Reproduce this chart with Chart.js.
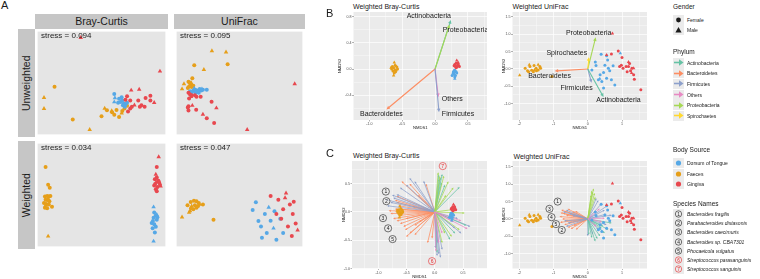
<!DOCTYPE html>
<html lang="en">
<head>
<meta charset="utf-8">
<title>NMDS oral / faecal microbiota</title>
<script src="https://cdn.jsdelivr.net/npm/chart.js@4.4.1/dist/chart.umd.min.js"></script>
<style>
  body { margin: 0; background: #fff; }
  #figura { position: relative; width: 760px; height: 279px; overflow: hidden;
            font-family: "Liberation Sans", Arial, sans-serif; color: #1a1a1a; }
  #figura canvas { position: absolute; }
  .letra { position: absolute; font-size: 11px; line-height: 1; }
  .tira { position: absolute; background: #C6C6C6; display: flex; align-items: center;
          justify-content: center; font-size: 10.5px; line-height: 1; }
  .tira.v span { transform: rotate(-90deg); white-space: nowrap; }
  .stress { position: absolute; font-size: 8px; line-height: 1; white-space: nowrap; color: #222; }
  .titulo { position: absolute; font-size: 7px; line-height: 1; white-space: nowrap; }
  .ley-titulo { position: absolute; font-size: 6.5px; line-height: 1; white-space: nowrap; }
  .ley-fila { position: absolute; display: flex; align-items: center; height: 10px;
              font-size: 5px; white-space: nowrap; }
  .ley-clave { width: 11px; height: 10px; background: #EBEBEB; margin-right: 3px;
               display: flex; align-items: center; justify-content: center; }
</style>
</head>
<body>
<div id="figura"></div>
<script>
// ---- Datos ----
// puntos: [NMDS1, NMDS2, sitio, genero]  sitio T=lengua F=heces G=encia, genero f/m
const sitios = ['T', 'F', 'G'];
const nombresSitio = ['Dorsum of Tongue', 'Faeces', 'Gingiva'];
const generos = ['Female', 'Male'];
const filos = ['A', 'B', 'F', 'O', 'P', 'S'];
const nombresFilo = ['Actinobacteria', 'Bacteroidetes', 'Firmicutes', 'Others', 'Proteobacteria', 'Spirochaetes'];
const especies = ['Bacteroides fragilis', 'Parabacteroides distasonis', 'Bacteroides caecimuris',
  'Bacteroides sp. CBA7301', 'Phocaeicola vulgatus', 'Streptococcus parasanguinis', 'Streptococcus sanguinis'];
const stressValores = ['0.094', '0.095', '0.034', '0.047'];

// Panel A (unidades de la faceta)
const uwBray = [
  [5.3,15.0,'F','f'],[2.0,11.6,'F','m'],[2.0,8.1,'F','m'],[11.0,4.7,'F','f'],[16.3,1.5,'F','m'],
  [21.0,8.2,'F','m'],[21.7,7.6,'F','f'],[20.0,5.7,'F','f'],[23.3,7.0,'F','f'],[24.0,6.2,'F','f'],
  [25.5,5.5,'F','f'],[26.5,7.4,'F','f'],[27.2,8.2,'F','f'],[23.2,7.4,'F','m'],[24.7,7.7,'F','f'],
  [28.0,9.0,'F','f'],[26.3,6.7,'F','m'],
  [24.0,12.7,'T','f'],[24.2,11.5,'T','m'],[25.5,11.2,'T','f'],[26.0,10.2,'T','f'],[26.5,10.7,'T','f'],
  [27.0,9.7,'T','f'],[27.5,9.4,'T','f'],[26.7,9.2,'T','f'],[28.0,10.0,'T','f'],[24.0,10.2,'T','m'],
  [26.3,11.7,'T','f'],[27.3,8.7,'T','f'],[25.2,10.0,'T','f'],
  [13.5,30.5,'G','m'],[38.3,19.9,'G','m'],[29.3,13.9,'G','m'],[31.8,14.2,'G','m'],[35.3,12.2,'G','f'],
  [33.8,11.5,'G','f'],[28.0,12.0,'G','f'],[29.0,10.7,'G','f'],[27.5,10.9,'G','f'],[31.5,10.7,'G','f'],
  [32.5,9.2,'G','f'],[32.0,8.7,'G','f'],[33.5,8.7,'G','f'],[29.5,8.7,'G','f'],[30.3,9.2,'G','m'],
  [36.5,10.0,'G','m'],[35.3,10.7,'G','f'],[29.0,8.2,'G','f'],[28.3,7.2,'G','f']
];
const uwUni = [
  [11.0,26.3,'F','m'],[15.4,25.9,'F','m'],[5.5,21.8,'F','f'],[15.9,22.1,'F','f'],[8.5,20.4,'F','m'],
  [4.9,17.7,'F','f'],[2.3,15.9,'F','m'],[1.7,14.3,'F','m'],[3.7,16.6,'F','f'],[4.2,16.1,'F','f'],
  [4.5,15.6,'F','f'],[3.9,15.1,'F','f'],[4.7,14.9,'F','f'],[3.5,14.6,'F','f'],[4.5,16.3,'F','m'],[5.2,15.3,'F','f'],
  [5.2,13.8,'T','f'],[5.7,14.1,'T','f'],[6.2,13.9,'T','f'],[6.7,13.6,'T','f'],[7.2,14.3,'T','f'],
  [7.7,13.8,'T','f'],[8.2,14.1,'T','f'],[9.4,14.1,'T','f'],[4.7,13.3,'T','f'],[5.9,13.1,'T','f'],
  [6.9,13.1,'T','f'],[7.9,14.3,'T','m'],[4.2,13.6,'T','f'],[5.5,14.5,'T','m'],
  [3.7,13.1,'G','f'],[4.2,12.6,'G','f'],[4.7,12.3,'G','f'],[6.2,11.9,'G','f'],[7.5,11.9,'G','f'],
  [3.9,11.3,'G','f'],[4.5,11.9,'G','m'],[3.7,8.9,'G','f'],[3.5,8.5,'G','f'],[4.9,9.1,'G','m'],
  [3.7,7.5,'G','f'],[6.1,7.8,'G','f'],[10.9,10.3,'G','f'],[12.4,8.3,'G','m'],[8.2,6.3,'G','m'],
  [9.4,5.1,'G','f'],[11.7,3.6,'G','f'],[22.0,1.5,'G','m'],[5.7,12.3,'G','f'],[36.8,15.9,'G','m']
];
const wBray = [
  [2.5,25.0,'F','f'],[3.3,19.4,'F','f'],[3.8,18.5,'F','f'],[2.3,15.7,'F','f'],[3.0,15.9,'F','f'],
  [3.5,15.7,'F','f'],[4.0,15.9,'F','f'],[2.5,14.7,'F','f'],[3.3,14.7,'F','f'],[3.7,14.2,'F','f'],
  [2.0,13.7,'F','f'],[2.7,13.4,'F','f'],[3.5,13.2,'F','f'],[4.5,12.5,'F','f'],[2.3,12.2,'F','f'],
  [3.0,12.0,'F','f'],[3.2,14.5,'F','m'],[3.3,3.2,'F','m'],[2.5,12.9,'F','m'],
  [37.9,28.2,'G','m'],[37.3,25.0,'G','f'],[37.0,22.7,'G','m'],[37.3,21.7,'G','f'],[36.7,21.2,'G','f'],
  [37.8,20.7,'G','f'],[37.1,20.2,'G','m'],[38.3,19.4,'G','f'],[36.5,19.2,'G','f'],[37.5,18.7,'G','f'],
  [37.0,18.0,'G','f'],[38.0,20.2,'G','f'],[37.3,17.4,'G','f'],[38.5,19.0,'G','m'],[36.8,19.7,'G','f'],
  [36.3,12.4,'T','m'],[36.5,10.7,'T','f'],[37.0,9.7,'T','f'],[36.3,9.0,'T','f'],[37.3,10.0,'T','m'],
  [37.3,8.4,'T','f'],[35.7,7.4,'T','f'],[36.5,7.0,'T','f'],[37.0,6.2,'T','f'],[36.0,5.7,'T','f'],
  [36.7,4.4,'T','f'],[36.3,1.6,'T','m'],[36.1,8.0,'T','f'],[37.5,9.2,'T','f']
];
const wUni = [
  [3.4,13.0,'F','f'],[4.4,14.0,'F','f'],[5.4,14.4,'F','f'],[6.2,14.2,'F','f'],[6.9,13.7,'F','f'],
  [6.7,12.7,'F','f'],[5.7,13.0,'F','f'],[5.2,11.7,'F','f'],[4.5,12.0,'F','f'],[4.2,11.2,'F','m'],
  [3.9,10.7,'F','m'],[8.2,13.2,'F','f'],[11.5,8.4,'F','f'],[1.7,9.2,'F','m'],[4.7,12.7,'F','m'],
  [6.2,12.2,'F','f'],[7.2,13.2,'F','m'],
  [24.7,13.9,'T','f'],[23.7,11.5,'T','f'],[25.5,8.0,'T','f'],[26.3,6.3,'T','f'],[27.5,10.2,'T','f'],
  [28.7,12.3,'T','m'],[29.3,8.1,'T','f'],[28.1,4.2,'T','f'],[30.2,5.7,'T','m'],[31.1,2.1,'T','f'],
  [32.3,8.7,'T','f'],[26.6,2.7,'T','f'],[33.2,4.2,'T','f'],[30.5,11.1,'T','f'],
  [29.3,15.9,'G','f'],[31.7,14.7,'G','f'],[34.1,16.8,'G','m'],[35.3,13.2,'G','f'],[33.2,11.7,'G','f'],
  [36.2,10.2,'G','f'],[37.1,7.2,'G','f'],[34.7,6.3,'G','f'],[32.6,8.7,'G','f'],[37.7,5.1,'G','m'],
  [31.1,10.2,'G','f'],[35.9,3.3,'G','f'],[33.8,15.3,'G','m'],[36.5,14.1,'G','f']
];

// Paneles B y C: ordenaciones ponderadas
const bcNmds = [
  [-0.62,0.10,'F','m'],[-0.65,0.04,'F','f'],[-0.60,0.05,'F','f'],[-0.63,0.02,'F','f'],[-0.58,0.03,'F','f'],
  [-0.66,0.00,'F','f'],[-0.61,-0.01,'F','f'],[-0.57,0.00,'F','f'],[-0.64,-0.03,'F','f'],[-0.60,-0.04,'F','f'],
  [-0.62,-0.06,'F','f'],[-0.67,0.02,'F','m'],[-0.59,-0.02,'F','m'],[-0.63,-0.10,'F','m'],[-0.61,0.06,'F','m'],
  [0.33,0.13,'G','m'],[0.32,0.09,'G','f'],[0.35,0.08,'G','f'],[0.30,0.07,'G','f'],[0.34,0.05,'G','f'],
  [0.31,0.04,'G','f'],[0.36,0.06,'G','m'],[0.33,0.03,'G','f'],[0.29,0.05,'G','f'],[0.35,0.10,'G','m'],
  [0.32,0.02,'G','f'],[0.37,0.04,'G','f'],
  [0.30,-0.02,'T','f'],[0.28,-0.05,'T','f'],[0.32,-0.04,'T','f'],[0.29,-0.08,'T','f'],[0.31,-0.10,'T','f'],
  [0.27,-0.07,'T','m'],[0.30,-0.12,'T','f'],[0.33,-0.06,'T','f'],[0.28,-0.03,'T','m'],[0.30,-0.15,'T','m'],
  [0.26,-0.10,'T','f']
];
const uniNmds = [
  [-1.99,-0.18,'F','m'],[-1.83,0.02,'F','f'],[-1.76,-0.05,'F','f'],[-1.69,0.07,'F','f'],[-1.64,-0.04,'F','f'],
  [-1.57,0.10,'F','f'],[-1.51,0.02,'F','f'],[-1.45,-0.03,'F','f'],[-1.40,0.07,'F','f'],[-1.73,-0.08,'F','f'],
  [-1.59,-0.08,'F','f'],[-1.50,-0.05,'F','f'],[-1.38,0.02,'F','f'],[-1.71,0.12,'F','m'],[-1.56,-0.03,'F','m'],
  [-1.45,0.12,'F','m'],[-1.05,-0.22,'F','f'],
  [0.39,0.42,'T','f'],[0.55,0.38,'T','f'],[0.95,0.45,'T','m'],[0.12,-0.03,'T','f'],[0.24,0.10,'T','f'],
  [0.50,0.11,'T','f'],[0.60,0.02,'T','f'],[0.74,0.09,'T','f'],[0.36,-0.17,'T','f'],[0.46,-0.10,'T','f'],
  [0.31,-0.31,'T','f'],[0.55,-0.27,'T','f'],[0.41,-0.36,'T','f'],[0.64,-0.05,'T','f'],[0.79,-0.46,'T','f'],
  [0.46,-0.55,'T','f'],[0.22,0.20,'T','f'],[0.58,0.26,'T','f'],[0.35,-0.28,'T','m'],[0.69,-0.31,'T','f'],
  [0.72,1.02,'G','m'],[0.89,0.52,'G','f'],[0.69,0.43,'G','f'],[0.55,0.40,'G','m'],[1.00,0.33,'G','f'],
  [0.98,0.11,'G','f'],[1.03,0.02,'G','f'],[1.12,0.07,'G','f'],[1.22,0.16,'G','f'],[1.19,0.07,'G','f'],
  [1.29,0.02,'G','f'],[1.15,-0.08,'G','f'],[1.25,-0.05,'G','f'],[1.34,-0.17,'G','f'],[1.36,-0.30,'G','f'],
  [1.34,0.02,'G','m'],[1.19,0.20,'G','m'],[1.55,-0.60,'G','f'],[0.93,0.07,'G','f'],[1.28,-0.12,'G','m']
];

// vectores envfit de filos: [NMDS1, NMDS2, filo]
const bcFilos = [[0.24,0.75,'A'],[0.22,0.68,'P'],[-0.74,-0.62,'B'],[0.05,-0.43,'O'],[0.06,-0.66,'F']];
const uniFilos = [[0.23,0.91,'P'],[0.03,0.34,'S'],[-0.97,-0.06,'B'],[0.11,-0.40,'F'],[0.46,-0.81,'A']];

// vectores de especies: [NMDS1, NMDS2, filo]
const bcEspecies = [
  [-0.68,0.28,'B'],[-0.71,0.21,'B'],[-0.65,0.11,'B'],[-0.71,0.05,'B'],[-0.62,0.05,'B'],[-0.79,-0.03,'B'],
  [-0.74,-0.12,'B'],[-0.68,-0.16,'B'],[-0.62,-0.21,'B'],[-0.56,-0.26,'B'],[-0.53,-0.32,'B'],[-0.45,-0.38,'B'],
  [-0.36,-0.41,'B'],[-0.51,-0.44,'B'],[-0.62,-0.06,'B'],[-0.82,0.02,'B'],[-0.36,-0.24,'B'],[-0.28,-0.18,'B'],
  [-0.52,-0.12,'B'],[-0.68,0.17,'B'],[-0.59,0.54,'B'],[-0.45,0.50,'B'],[-0.16,0.50,'B'],[-0.13,-0.55,'B'],
  [-0.05,-0.47,'B'],[-0.30,0.30,'B'],[-0.40,0.10,'B'],
  [-0.76,0.30,'F'],[-0.74,0.25,'F'],[-0.68,0.31,'F'],[-0.88,0.22,'F'],[-0.79,0.17,'F'],[-0.45,0.60,'F'],
  [-0.36,0.54,'F'],[-0.62,0.43,'F'],[-0.51,0.48,'F'],[-0.85,0.11,'F'],[0.04,-0.78,'F'],[0.07,-0.75,'F'],
  [0.10,-0.81,'F'],[0.01,-0.64,'F'],[0.13,-0.67,'F'],[0.63,-0.26,'F'],[0.47,-0.38,'F'],[0.36,-0.29,'F'],
  [0.41,-0.12,'F'],[-0.20,0.55,'F'],[0.05,-0.55,'F'],
  [0.07,0.66,'A'],[0.10,0.61,'A'],[0.13,0.67,'A'],[0.44,0.44,'A'],[0.18,0.48,'A'],[0.36,-0.38,'A'],
  [0.27,-0.49,'A'],[0.56,-0.24,'A'],[0.04,-0.72,'A'],[0.08,0.58,'A'],[0.12,0.52,'A'],
  [0.06,0.70,'P'],[0.16,0.64,'P'],[0.24,0.54,'P'],[0.33,0.43,'P'],[0.39,0.05,'P'],[0.53,-0.02,'P'],
  [0.18,-0.38,'P'],[0.30,-0.44,'P'],[0.44,-0.32,'P'],[0.13,-0.55,'P'],[0.09,0.63,'P'],[0.20,0.30,'P'],
  [0.07,-0.55,'O'],[0.13,-0.38,'O'],[0.33,-0.18,'O'],[0.47,-0.16,'O'],[0.02,-0.70,'O'],[0.58,-0.30,'O']
];
const uniEspecies = [
  [-0.78,0.26,'B'],[-0.73,0.16,'B'],[-0.69,0.23,'B'],[-0.83,0.07,'B'],[-0.75,0.00,'B'],[-0.81,-0.10,'B'],
  [-0.69,-0.17,'B'],[-0.59,-0.25,'B'],[-0.50,-0.29,'B'],[-0.35,-0.31,'B'],[-0.64,0.11,'B'],[-0.54,-0.10,'B'],
  [-0.45,0.21,'B'],[-0.37,0.23,'B'],[-0.59,0.29,'B'],[-0.80,0.18,'B'],[-0.66,-0.05,'B'],[-0.42,-0.20,'B'],
  [-0.73,0.21,'F'],[-0.64,0.26,'F'],[-0.54,0.16,'F'],[-0.45,0.10,'F'],[-0.70,-0.06,'F'],[-0.59,-0.12,'F'],
  [-0.64,-0.22,'F'],[0.50,0.26,'F'],[0.60,0.40,'F'],[0.31,0.54,'F'],[0.41,0.45,'F'],[0.55,0.14,'F'],
  [0.70,0.11,'F'],[0.31,-0.31,'F'],[0.55,-0.17,'F'],[0.25,0.60,'F'],[0.00,-0.50,'F'],[0.15,-0.45,'F'],
  [0.17,0.88,'P'],[0.14,0.78,'P'],[0.10,0.69,'P'],[0.22,0.64,'P'],[0.12,0.82,'P'],[0.20,0.75,'P'],
  [0.22,-0.65,'A'],[0.12,-0.55,'A'],[0.03,-0.46,'A'],[0.36,-0.50,'A'],[0.50,-0.41,'A'],[0.60,-0.31,'A'],
  [0.41,-0.27,'A'],[0.70,-0.12,'A'],[0.28,-0.58,'A'],[0.45,-0.20,'A'],
  [0.41,-0.08,'O'],[0.25,-0.22,'O'],[0.50,0.02,'O'],[0.35,0.30,'O']
];

// ---- Estilos y disposicion ----
const colorSitio = { T: '#56A8E6', F: '#E69F1A', G: '#E8484F' };
const colorFilo = { A: '#66C2A5', B: '#FC8D62', F: '#8DA0CB', O: '#E78AC3', P: '#A6D854', S: '#FFD92F' };
const ordenDibujo = ['G', 'T', 'F'];   // el primero queda encima

const facetas = [
  { datos: uwBray, x: 35,  y: 29,  w: 133, h: 108, xMax: 40,   yMax: 32.4 },
  { datos: uwUni,  x: 174, y: 29,  w: 131, h: 108, xMax: 39.2, yMax: 32.4 },
  { datos: wBray,  x: 35,  y: 141, w: 133, h: 108, xMax: 40,   yMax: 32.4 },
  { datos: wUni,   x: 174, y: 141, w: 131, h: 108, xMax: 39.2, yMax: 32.4 }
];

// desplazamiento (px) de cada etiqueta respecto de la punta del vector
const bcEtiquetas = [[-22,-4],[16,5],[-5,5],[14,2],[19,2]];
const uniEtiquetas = [[-7,-4],[-22,-4],[-5,5],[-15,5],[15,3]];

// numeros de especie (posicion en unidades NMDS)
const bcNumeros = [
  {n:1,x:-0.87,y:0.36},{n:2,x:-0.86,y:0.19},{n:3,x:-0.92,y:-0.11},{n:4,x:-0.83,y:-0.29},
  {n:5,x:-0.75,y:-0.48},{n:7,x:0.14,y:0.81},{n:6,x:-0.05,y:-0.87}
];
const uniNumeros = [
  {n:1,x:-0.88,y:0.50},{n:3,x:-1.12,y:0.29},{n:4,x:-1.06,y:0.05},{n:5,x:-0.93,y:-0.15},{n:2,x:-0.76,y:-0.32}
];

Chart.defaults.font.family = '"Liberation Sans", Arial, sans-serif';
const figura = document.getElementById('figura');

function crearCanvas(x, y, w, h) {
  const c = document.createElement('canvas');
  c.width = w; c.height = h;
  c.style.left = x + 'px'; c.style.top = y + 'px';
  c.style.width = w + 'px'; c.style.height = h + 'px';
  figura.appendChild(c);
  return c;
}

function agregarTexto(clase, x, y, texto) {
  const d = document.createElement('div');
  d.className = clase;
  d.style.left = x + 'px'; d.style.top = y + 'px';
  d.textContent = texto;
  figura.appendChild(d);
  return d;
}

// fondo gris del panel
const fondoPlugin = {
  id: 'fondo',
  beforeDraw(chart, args, opts) {
    const { ctx, chartArea: a } = chart;
    ctx.save();
    ctx.fillStyle = opts.color || '#EBEBEB';
    ctx.fillRect(a.left, a.top, a.right - a.left, a.bottom - a.top);
    ctx.restore();
  }
};

// flechas desde el origen, etiquetas y numeros de especie
const vectoresPlugin = {
  id: 'vectores',
  beforeDatasetsDraw(chart, args, opts) {
    if (!opts.datos) return;
    const { ctx, chartArea: a, scales: { x, y } } = chart;
    const x0 = x.getPixelForValue(0), y0 = y.getPixelForValue(0);
    ctx.save();
    ctx.beginPath(); ctx.rect(a.left, a.top, a.right - a.left, a.bottom - a.top); ctx.clip();
    opts.datos.forEach(v => {
      const x1 = x.getPixelForValue(v[0]), y1 = y.getPixelForValue(v[1]);
      const col = colorFilo[v[2]];
      const ang = Math.atan2(y1 - y0, x1 - x0), L = opts.punta;
      ctx.strokeStyle = col; ctx.fillStyle = col; ctx.lineWidth = opts.grosor;
      ctx.beginPath(); ctx.moveTo(x0, y0);
      ctx.lineTo(x1 - 0.6 * L * Math.cos(ang), y1 - 0.6 * L * Math.sin(ang)); ctx.stroke();
      ctx.beginPath(); ctx.moveTo(x1, y1);
      ctx.lineTo(x1 - L * Math.cos(ang - 0.45), y1 - L * Math.sin(ang - 0.45));
      ctx.lineTo(x1 - L * Math.cos(ang + 0.45), y1 - L * Math.sin(ang + 0.45));
      ctx.closePath(); ctx.fill();
    });
    ctx.restore();
  },
  afterDatasetsDraw(chart, args, opts) {
    if (!opts.datos) return;
    const { ctx, chartArea: a, scales: { x, y } } = chart;
    ctx.save();
    ctx.beginPath(); ctx.rect(a.left, a.top, a.right - a.left, a.bottom - a.top); ctx.clip();
    ctx.textAlign = 'center'; ctx.textBaseline = 'middle';
    if (opts.etiquetas) {
      ctx.font = '7px "Liberation Sans", Arial, sans-serif';
      ctx.fillStyle = '#1a1a1a';
      opts.datos.forEach((v, i) => {
        const e = opts.etiquetas[i];
        ctx.fillText(nombresFilo[filos.indexOf(v[2])],
          x.getPixelForValue(v[0]) + e[0], y.getPixelForValue(v[1]) + e[1]);
      });
    }
    (opts.numeros || []).forEach(m => {
      const px = x.getPixelForValue(m.x), py = y.getPixelForValue(m.y);
      const col = m.n >= 6 ? '#E8282B' : '#1a1a1a';
      ctx.beginPath(); ctx.arc(px, py, 3.6, 0, Math.PI * 2);
      ctx.fillStyle = 'rgba(235,235,235,0.6)'; ctx.fill();
      ctx.lineWidth = 0.6; ctx.strokeStyle = col; ctx.stroke();
      ctx.fillStyle = col; ctx.font = '5px "Liberation Sans", Arial, sans-serif';
      ctx.fillText(String(m.n), px, py + 0.3);
    });
    ctx.restore();
  }
};

function datasetsPuntos(puntos, rC, rT) {
  return ordenDibujo.map(s => ({
    data: puntos.filter(p => p[2] === s).map(p => ({ x: p[0], y: p[1], g: p[3] })),
    backgroundColor: colorSitio[s],
    borderWidth: 0,
    pointStyle: c => (c.raw && c.raw.g === 'm') ? 'triangle' : 'circle',
    pointRadius: c => (c.raw && c.raw.g === 'm') ? rT : rC,
    pointHoverRadius: 0
  }));
}

// ---- Panel A ----
function graficoFaceta(f) {
  const canvas = crearCanvas(f.x, f.y, f.w, f.h);
  return new Chart(canvas, {
    type: 'scatter',
    data: { datasets: datasetsPuntos(f.datos, 2, 2.6) },
    options: {
      responsive: false, animation: false, events: [],
      layout: { padding: 0 },
      plugins: { legend: { display: false }, tooltip: { enabled: false }, fondo: { color: '#E5E5E5' } },
      scales: {
        x: { display: false, min: 0, max: f.xMax },
        y: { display: false, min: 0, max: f.yMax }
      }
    },
    plugins: [fondoPlugin]
  });
}

// ---- Paneles B y C ----
function esMayor(v, paso) { return Math.abs(v / paso - Math.round(v / paso)) < 1e-6; }
function formato(v, dec) { if (Math.abs(v) < 1e-9) v = 0; return v.toFixed(dec); }

function eje(cfg, horizontal) {
  return {
    min: cfg.min, max: cfg.max,
    afterFit: s => {
      if (horizontal) s.height = cfg.caja; else s.width = cfg.caja;
      s.paddingLeft = s.paddingRight = s.paddingTop = s.paddingBottom = 0;
    },
    ticks: {
      stepSize: cfg.paso / 2, includeBounds: false, autoSkip: false, maxRotation: 0, minRotation: 0,
      padding: 0.5, color: '#4D4D4D', font: { size: 3.6 },
      callback: v => esMayor(v, cfg.paso) ? formato(v, cfg.dec) : ''
    },
    grid: {
      color: '#FFFFFF',
      lineWidth: c => (c.tick && esMayor(c.tick.value, cfg.paso)) ? 0.7 : 0.35,
      tickLength: 1.5,
      tickColor: c => (c.tick && esMayor(c.tick.value, cfg.paso)) ? '#444' : 'rgba(0,0,0,0)',
      tickWidth: 0.4
    },
    border: { display: false },
    title: { display: true, text: horizontal ? 'NMDS1' : 'NMDS2', color: '#1a1a1a',
             font: { size: 4.2 }, padding: 0 }
  };
}

function graficoOrdenacion(caja, puntos, vectores, extra) {
  const canvas = crearCanvas(caja.x, caja.y, caja.w, caja.h);
  return new Chart(canvas, {
    type: 'scatter',
    data: { datasets: datasetsPuntos(puntos, 1.5, 2) },
    options: {
      responsive: false, animation: false, events: [],
      layout: { padding: { top: caja.arriba, right: 0, left: 0, bottom: 0 } },
      plugins: {
        legend: { display: false }, tooltip: { enabled: false },
        fondo: { color: '#EBEBEB' },
        vectores: Object.assign({ datos: vectores }, extra)
      },
      scales: { x: eje(caja.ejeX, true), y: eje(caja.ejeY, false) }
    },
    plugins: [fondoPlugin, vectoresPlugin]
  });
}

// ---- Leyenda ----
function svgFlecha(col) {
  return '<svg width="11" height="9"><line x1="1" y1="4.5" x2="7" y2="4.5" stroke="' + col +
    '" stroke-width="1.6"/><polygon points="10.5,4.5 6,1.3 6,7.7" fill="' + col + '"/></svg>';
}
function svgCirculo(col, r) {
  return '<svg width="11" height="10"><circle cx="5.5" cy="5" r="' + r + '" fill="' + col + '"/></svg>';
}
function svgTriangulo(col) {
  return '<svg width="11" height="10"><polygon points="5.5,2 8.6,7.4 2.4,7.4" fill="' + col + '"/></svg>';
}
function svgNumero(n, col) {
  return '<svg width="11" height="10"><circle cx="5.5" cy="5" r="3.2" fill="none" stroke="' + col +
    '" stroke-width="0.6"/><text x="5.5" y="6.8" font-size="4.8" text-anchor="middle" fill="' + col +
    '" font-family="Liberation Sans, Arial">' + n + '</text></svg>';
}

function grupoLeyenda(titulo, yTitulo, yFila, paso, filas, cursiva) {
  agregarTexto('ley-titulo', 673, yTitulo - 3.5, titulo);
  filas.forEach((f, i) => {
    const d = document.createElement('div');
    d.className = 'ley-fila';
    d.style.left = '673px';
    d.style.top = (yFila + i * paso - 5) + 'px';
    d.innerHTML = '<div class="ley-clave">' + f.clave + '</div><span' +
      (cursiva ? ' style="font-style:italic"' : '') + '>' + f.texto + '</span>';
    figura.appendChild(d);
  });
}

function construirFigura() {
  // Panel A
  agregarTexto('letra', 1, 0, 'A');
  [['Bray-Curtis', 35, 133], ['UniFrac', 174, 131]].forEach(([t, x, w]) => {
    const d = agregarTexto('tira', x, 14, '');
    d.style.width = w + 'px'; d.style.height = '15px'; d.textContent = t;
  });
  [['Unweighted', 29], ['Weighted', 141]].forEach(([t, y]) => {
    const d = agregarTexto('tira v', 18, y, '');
    d.style.width = '17px'; d.style.height = '108px';
    d.innerHTML = '<span>' + t + '</span>';
  });
  facetas.forEach((f, i) => {
    graficoFaceta(f);
    agregarTexto('stress', f.x + 6, f.y + 3, 'stress = ' + stressValores[i]);
  });

  // Panel B
  agregarTexto('letra', 326, 8, 'B');
  agregarTexto('titulo', 353, 2.5, 'Weighted Bray-Curtis');
  agregarTexto('titulo', 512.5, 2.5, 'Weighted UniFrac');
  const ejeBcX = { min: -1.24, max: 0.79, paso: 0.5, dec: 1, caja: 10 };
  const ejeBcY = { min: -0.78, max: 0.873, paso: 0.4, dec: 1, caja: 16.5 };
  const ejeUniX = { min: -2.2, max: 1.73, paso: 1, dec: 0, caja: 10 };
  const ejeUniY = { min: -1.47, max: 1.64, paso: 0.5, dec: 1, caja: 11.5 };
  graficoOrdenacion({ x: 336.5, y: 0, w: 152.5, h: 130, arriba: 12, ejeX: ejeBcX, ejeY: ejeBcY },
    bcNmds, bcFilos, { etiquetas: bcEtiquetas, grosor: 1.1, punta: 4 });
  graficoOrdenacion({ x: 500.5, y: 0, w: 148.5, h: 130, arriba: 12, ejeX: ejeUniX, ejeY: ejeUniY },
    uniNmds, uniFilos, { etiquetas: uniEtiquetas, grosor: 1.1, punta: 4 });

  // Panel C
  agregarTexto('letra', 326, 148, 'C');
  agregarTexto('titulo', 353, 152, 'Weighted Bray-Curtis');
  agregarTexto('titulo', 513.5, 153, 'Weighted UniFrac');
  const ejeC1X = { min: -1.47, max: 0.925, paso: 0.5, dec: 1, caja: 10.5 };
  const ejeC1Y = { min: -1.0, max: 0.9, paso: 0.5, dec: 1, caja: 11 };
  const ejeC2X = { min: -2.2, max: 1.73, paso: 1, dec: 0, caja: 10.5 };
  const ejeC2Y = { min: -1.43, max: 1.67, paso: 0.5, dec: 1, caja: 11.5 };
  graficoOrdenacion({ x: 341, y: 150, w: 148, h: 129, arriba: 11, ejeX: ejeC1X, ejeY: ejeC1Y },
    bcNmds, bcEspecies, { numeros: bcNumeros, grosor: 0.75, punta: 2.4 });
  graficoOrdenacion({ x: 500.5, y: 150, w: 148.5, h: 129, arriba: 11, ejeX: ejeC2X, ejeY: ejeC2Y },
    uniNmds, uniEspecies, { numeros: uniNumeros, grosor: 0.75, punta: 2.4 });

  // Leyendas
  grupoLeyenda('Gender', 7.5, 19.5, 10.5, [
    { clave: svgCirculo('#1a1a1a', 2.4), texto: generos[0] },
    { clave: svgTriangulo('#1a1a1a'), texto: generos[1] }
  ]);
  grupoLeyenda('Phylum', 52, 62.7, 10.6,
    filos.map((f, i) => ({ clave: svgFlecha(colorFilo[f]), texto: nombresFilo[i] })));
  grupoLeyenda('Body Source', 150.7, 163.3, 10.4,
    sitios.map((s, i) => ({ clave: svgCirculo(colorSitio[s], 2.6), texto: nombresSitio[i] })));
  grupoLeyenda('Species Names', 204, 214, 9.2,
    especies.map((e, i) => ({ clave: svgNumero(i + 1, i >= 5 ? '#E8282B' : '#1a1a1a'), texto: e })), true);
}

if (document.readyState === 'loading') {
  document.addEventListener('DOMContentLoaded', construirFigura);
} else {
  construirFigura();
}
</script>
</body>
</html>
